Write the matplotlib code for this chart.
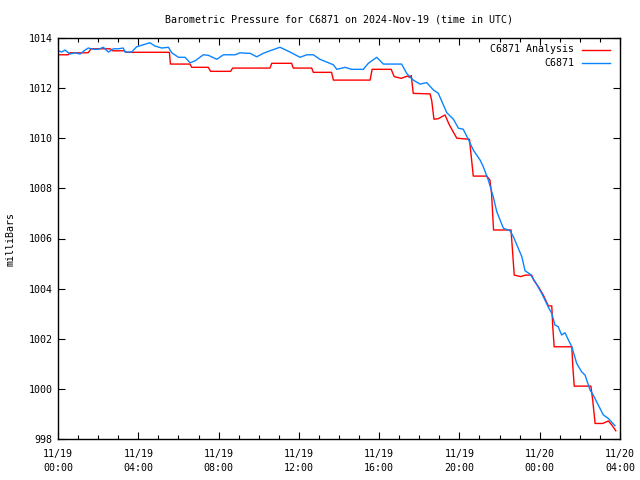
import matplotlib
matplotlib.use("Agg")
import matplotlib.pyplot as plt
from matplotlib.ticker import MultipleLocator

plt.rcParams['font.family'] = ['DejaVu Sans Mono']

title = "Barometric Pressure for C6871 on 2024-Nov-19 (time in UTC)"
ylabel = "milliBars"
xtick_labels = ["11/19\n00:00", "11/19\n04:00", "11/19\n08:00", "11/19\n12:00",
                "11/19\n16:00", "11/19\n20:00", "11/20\n00:00", "11/20\n04:00"]
xtick_hours = [0, 4, 8, 12, 16, 20, 24, 28]

# Analysis (red) - hours since 11/19 00:00 UTC
ana_t = [0.0, 0.5, 0.6, 1.5, 1.65, 2.6, 2.7, 3.3, 3.4, 5.55, 5.6, 6.58, 6.66, 7.49, 7.6, 8.6,
         8.7, 10.56, 10.65, 11.64, 11.72, 12.64, 12.72, 13.63, 13.72, 15.55, 15.65, 16.6,
         16.75, 17.1, 17.4, 17.55, 17.6, 17.7, 18.54, 18.62, 18.73, 18.95, 19.28, 19.5,
         19.87, 20.5, 20.69, 21.36, 21.52, 21.6, 21.7, 22.57, 22.65, 22.73, 23.05, 23.3,
         23.6, 23.7, 23.93, 24.18, 24.43, 24.6, 24.65, 24.72, 25.6, 25.65, 25.72, 26.55,
         26.64, 26.76, 27.14, 27.42, 27.59, 27.79]
ana_p = [1013.33, 1013.33, 1013.41, 1013.41, 1013.57, 1013.57, 1013.49, 1013.49, 1013.43,
         1013.43, 1012.96, 1012.96, 1012.83, 1012.83, 1012.67, 1012.67, 1012.8, 1012.8,
         1012.99, 1012.99, 1012.8, 1012.8, 1012.63, 1012.63, 1012.32, 1012.32, 1012.75,
         1012.75, 1012.46, 1012.39, 1012.48, 1012.42, 1012.5, 1011.79, 1011.77, 1011.5,
         1010.76, 1010.78, 1010.93, 1010.53, 1010.0, 1009.96, 1008.49, 1008.49, 1008.33,
         1007.8, 1006.34, 1006.34, 1005.45, 1004.54, 1004.48, 1004.54, 1004.54, 1004.34,
         1004.08, 1003.74, 1003.31, 1003.31, 1002.48, 1001.68, 1001.68, 1000.88, 1000.11,
         1000.11, 999.55, 998.62, 998.62, 998.72, 998.56, 998.33]

# Observed (blue)
obs_t = [0.02, 0.18, 0.35, 0.6, 0.85, 1.1, 1.35, 1.51, 1.76, 2.01, 2.26, 2.51, 2.76, 3.0,
         3.25, 3.34, 3.67, 3.92, 4.25, 4.58, 4.83, 5.17, 5.5, 5.67, 6.0, 6.33, 6.58, 6.83,
         7.24, 7.49, 7.91, 8.24, 8.82, 9.07, 9.4, 9.57, 9.9, 10.23, 10.56, 11.06, 11.56,
         12.06, 12.39, 12.72, 13.05, 13.39, 13.72, 13.89, 14.3, 14.63, 15.21, 15.46, 15.88,
         16.21, 17.12, 17.37, 17.7, 18.04, 18.37, 18.7, 18.95, 19.37, 19.7, 19.95, 20.19,
         20.44, 20.69, 21.03, 21.19, 21.44, 21.69, 21.86, 22.19, 22.52, 22.69, 23.11, 23.27,
         23.52, 23.77, 24.1, 24.46, 24.6, 24.76, 24.92, 25.09, 25.26, 25.43, 25.6, 25.84,
         26.09, 26.26, 26.51, 26.67, 26.92, 27.17, 27.42, 27.75]
obs_p = [1013.49, 1013.44, 1013.52, 1013.36, 1013.41, 1013.36, 1013.52, 1013.6, 1013.55,
         1013.55, 1013.63, 1013.44, 1013.57, 1013.57, 1013.6, 1013.44, 1013.44, 1013.65,
         1013.73, 1013.81, 1013.68, 1013.6, 1013.63, 1013.41, 1013.23, 1013.23, 1013.01,
         1013.09, 1013.33, 1013.31, 1013.15, 1013.33, 1013.33, 1013.41, 1013.39, 1013.39,
         1013.25, 1013.39, 1013.49, 1013.63, 1013.44, 1013.23, 1013.33, 1013.33, 1013.15,
         1013.04, 1012.93, 1012.75, 1012.83, 1012.75, 1012.75, 1012.99, 1013.23, 1012.96,
         1012.96, 1012.59, 1012.32, 1012.16, 1012.22, 1011.93, 1011.79, 1011.02, 1010.76,
         1010.4, 1010.36, 1009.96, 1009.53, 1009.13, 1008.86, 1008.33, 1007.65, 1007.07,
         1006.41, 1006.31, 1006.07, 1005.27, 1004.71, 1004.58, 1004.28, 1003.81, 1003.21,
         1003.01, 1002.55, 1002.48, 1002.15, 1002.24, 1001.95, 1001.68, 1001.02, 1000.68,
         1000.55, 999.95, 999.75, 999.35, 998.96, 998.82, 998.53]

fig = plt.figure(figsize=(6.4, 4.8), dpi=100)
ax = fig.add_axes([58/640, 1-439/480, (620-58)/640, (439-38)/480])

red = '#ff0000'
blue = '#0a84ff'
ax.plot(ana_t, ana_p, color=red, lw=1.0)
ax.plot(obs_t, obs_p, color=blue, lw=1.0)

ax.set_xlim(0, 28)
ax.set_ylim(998, 1014)
ax.set_xticks(xtick_hours)
ax.set_xticklabels(xtick_labels, linespacing=1.55)
ax.xaxis.set_minor_locator(MultipleLocator(1))
ax.yaxis.set_major_locator(MultipleLocator(2))
ax.tick_params(which='both', direction='in', top=True, right=True, labelsize=7.2, width=0.8)
ax.tick_params(which='major', length=5)
ax.tick_params(which='minor', length=3)
ax.tick_params(axis='x', pad=7)
ax.tick_params(axis='y', pad=4)
for s in ax.spines.values():
    s.set_linewidth(1.0)

ax.set_title(title, fontsize=7.2, pad=11)
ax.set_ylabel(ylabel, fontsize=7.2, labelpad=9)

# gnuplot-style legend (text right-aligned, sample to the right)
labels = ["C6871 Analysis", "C6871"]
colors = [red, blue]
for i, (lab, c) in enumerate(zip(labels, colors)):
    yy = 1 - (11.5 + 13*i)/401
    ax.text((574-58)/562, yy, lab, transform=ax.transAxes, ha='right', va='center', fontsize=7.2)
    ax.plot([(582-58)/562, (610-58)/562], [yy, yy], transform=ax.transAxes, color=c, lw=1.0)

fig.savefig("out.png", dpi=100)
